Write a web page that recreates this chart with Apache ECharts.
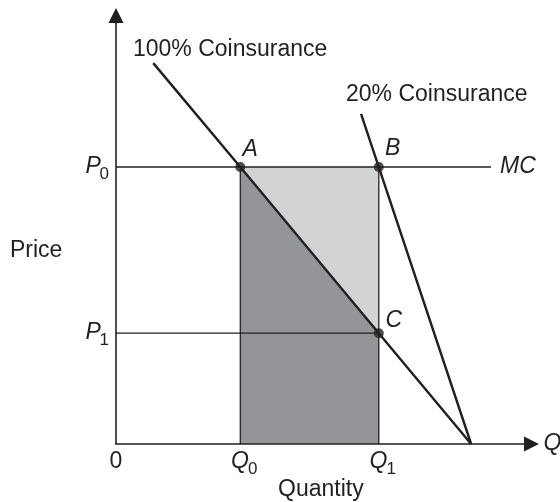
<!DOCTYPE html>
<html>
<head>
<meta charset="utf-8">
<script src="https://cdn.jsdelivr.net/npm/echarts@6/dist/echarts.min.js"></script>
<style>html,body{margin:0;padding:0;background:#fff}#c{width:560px;height:502px}</style>
</head>
<body>
<div id="c"></div>
<script>
// ---- data ----
const demand100 = [[1.05, 13.75], [3.5, 10], [7.4, 4], [10, 0]];
const demand20 = [[6.9, 11.92], [7.4, 10], [10, 0]];
const mcLine = [[0, 10], [10.56, 10]];
const p1Line = [[0, 4], [7.4, 4]];
const q0Line = [[3.5, 0], [3.5, 10]];
const q1Line = [[7.4, 0], [7.4, 10]];
const darkArea = [[3.5, 0], [3.5, 10], [7.4, 4], [7.4, 0]];
const lightArea = [[3.5, 10], [7.4, 10], [7.4, 4]];
const pointNames = ['A', 'B', 'C'];
const pointValues = [[3.5, 10], [7.4, 10], [7.4, 4]];
const xTicks = [0, 3.5, 7.4];
const xTickLabels = ['0', 'Q0', 'Q1'];
const yTicks = [4, 10];
const yTickLabels = ['P1', 'P0'];

const INK = '#231f20';
const FONT = 'Liberation Sans, Arial, Helvetica, sans-serif';
const FS = 23;

function subLabel(s) {
  return s.length > 1 ? '{' + s[0] + '|' + s[0] + '}{s|' + s.slice(1) + '}' : '{n|' + s + '}';
}
function lookup(v, ticks, labels) {
  const i = ticks.findIndex(t => Math.abs(t - v) < 1e-6);
  return i < 0 ? '' : labels[i];
}
const mainStyle = { fontSize: FS, fontStyle: 'italic', fontFamily: FONT, color: INK, verticalAlign: 'top', lineHeight: 24, align: 'left' };
const richSub = {
  P: Object.assign({}, mainStyle, { width: 14 }),
  Q: Object.assign({}, mainStyle, { width: 17, padding: [0, 0, 0, 8] }),
  s: { fontSize: 17, fontFamily: FONT, color: INK, verticalAlign: 'top', lineHeight: 17, padding: [11, 0, 0, 0] },
  n: { fontSize: FS, fontFamily: FONT, color: INK, verticalAlign: 'top', lineHeight: 24 }
};

function polySeries(points, color) {
  return {
    type: 'custom', z: 1, silent: true,
    data: [[points[0][0], points[0][1]]],
    renderItem: function (params, api) {
      return { type: 'polygon', shape: { points: points.map(p => api.coord(p)) },
               style: { fill: color, stroke: null } };
    }
  };
}
function lineSeries(data, width, extra) {
  return Object.assign({
    type: 'line', data: data, z: 2, silent: true, symbol: 'none',
    lineStyle: { color: INK, width: width }, animation: false
  }, extra || {});
}

const labelOffsets = { A: [10, -1], B: [14, -2], C: [15, 4] };

const chart = echarts.init(document.getElementById('c'), null, { renderer: 'canvas' });
chart.setOption({
  animation: false,
  grid: { left: 116, right: 28.5, top: 15.5, bottom: 58, containLabel: false, outerBoundsMode: 'none' },
  xAxis: {
    type: 'value', min: 0, max: 11.7, z: 5,
    name: 'Q', nameLocation: 'end', nameGap: 12,
    nameTextStyle: { fontSize: FS, fontStyle: 'italic', fontFamily: FONT, color: INK, verticalAlign: 'middle', padding: [8, 0, 0, 0] },
    axisLine: { show: true, lineStyle: { color: INK, width: 1.6 }, symbol: ['none', 'triangle'], symbolSize: [15, 15] },
    axisTick: { show: false },
    splitLine: { show: false },
    axisLabel: {
      show: true, customValues: xTicks, margin: 6, hideOverlap: false,
      formatter: v => subLabel(lookup(v, xTicks, xTickLabels)),
      rich: richSub
    }
  },
  yAxis: {
    type: 'value', min: 0, max: 15.47, z: 5,
    axisLine: { show: true, lineStyle: { color: INK, width: 1.6 }, symbol: ['none', 'triangle'], symbolSize: [15, 15] },
    axisTick: { show: false },
    splitLine: { show: false },
    axisLabel: {
      show: true, customValues: yTicks, margin: 7, hideOverlap: false,
      formatter: v => subLabel(lookup(v, yTicks, yTickLabels)),
      rich: richSub
    }
  },
  graphic: [
    { type: 'text', left: 133, top: 38, style: { text: '100% Coinsurance', font: FS + 'px ' + FONT, fill: INK } },
    { type: 'text', left: 346, top: 83, style: { text: '20% Coinsurance', font: FS + 'px ' + FONT, fill: INK } },
    { type: 'text', left: 10, top: 239, style: { text: 'Price', font: FS + 'px ' + FONT, fill: INK } },
    { type: 'text', left: 278, top: 478, style: { text: 'Quantity', font: FS + 'px ' + FONT, fill: INK } }
  ],
  series: [
    polySeries(darkArea, '#939598'),
    polySeries(lightArea, '#d1d3d4'),
    lineSeries(q0Line, 1.3),
    lineSeries(q1Line, 1.3),
    lineSeries(p1Line, 1.3),
    lineSeries(mcLine, 1.3, {
      endLabel: { show: true, formatter: 'MC', distance: 9, fontSize: FS, fontStyle: 'italic', fontFamily: FONT, color: INK }
    }),
    lineSeries(demand100, 2.4),
    lineSeries(demand20, 2.4),
    {
      type: 'scatter', z: 4, silent: true, symbol: 'circle', symbolSize: 10,
      itemStyle: { color: INK },
      data: pointValues.map((v, i) => ({
        value: v,
        label: {
          show: true, formatter: pointNames[i], position: 'top', distance: 0,
          offset: labelOffsets[pointNames[i]],
          fontSize: FS, fontStyle: 'italic', fontFamily: FONT, color: INK, opacity: 1
        }
      }))
    }
  ]
});
</script>
</body>
</html>
